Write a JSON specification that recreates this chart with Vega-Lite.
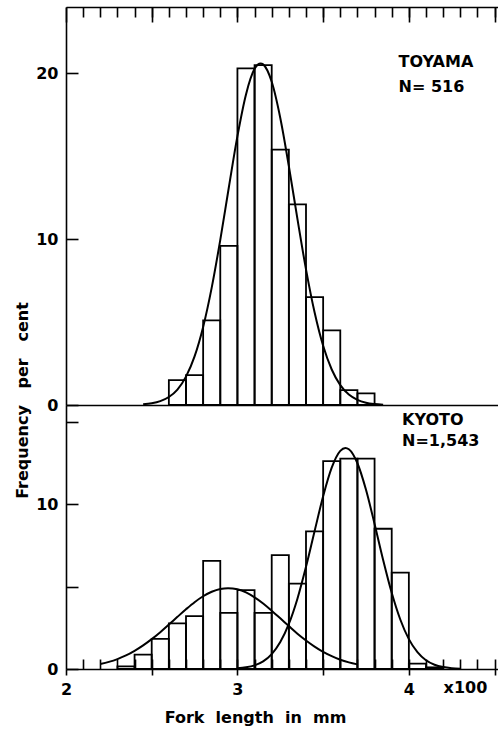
{
  "$schema": "https://vega.github.io/schema/vega-lite/v6.json",
  "padding": {"left": 14, "top": 6, "right": 0, "bottom": 4},
  "background": "white",
  "bounds": "flush",
  "spacing": 0,
  "config": {
    "view": {"stroke": null},
    "font": "DejaVu Sans",
    "axis": {"domainColor": "black", "tickColor": "black", "domainWidth": 1.6, "tickWidth": 1.6, "grid": false, "labelColor": "black", "titleColor": "black", "labelFont": "DejaVu Sans", "labelFontWeight": "bold", "labelFontSize": 16, "titleFont": "DejaVu Sans", "titleFontWeight": "bold", "titleFontSize": 16, "labelFlush": false}
  },
  "datasets": {
    "toyama_bars": [
      {"start": 2.6, "end": 2.7, "pct": 1.5},
      {"start": 2.7, "end": 2.8, "pct": 1.8},
      {"start": 2.8, "end": 2.9, "pct": 5.1},
      {"start": 2.9, "end": 3.0, "pct": 9.6},
      {"start": 3.0, "end": 3.1, "pct": 20.3},
      {"start": 3.1, "end": 3.2, "pct": 20.5},
      {"start": 3.2, "end": 3.3, "pct": 15.4},
      {"start": 3.3, "end": 3.4, "pct": 12.1},
      {"start": 3.4, "end": 3.5, "pct": 6.5},
      {"start": 3.5, "end": 3.6, "pct": 4.5},
      {"start": 3.6, "end": 3.7, "pct": 0.9},
      {"start": 3.7, "end": 3.8, "pct": 0.7}
    ],
    "toyama_curve": [
      {"x": 2.45, "y": 0.04}, {"x": 2.5, "y": 0.10}, {"x": 2.55, "y": 0.23}, {"x": 2.6, "y": 0.48},
      {"x": 2.65, "y": 0.93}, {"x": 2.7, "y": 1.71}, {"x": 2.75, "y": 2.93}, {"x": 2.8, "y": 4.71},
      {"x": 2.85, "y": 7.08}, {"x": 2.9, "y": 9.96}, {"x": 2.95, "y": 13.13}, {"x": 3.0, "y": 16.21},
      {"x": 3.05, "y": 18.73}, {"x": 3.1, "y": 20.27}, {"x": 3.135, "y": 20.6}, {"x": 3.15, "y": 20.54},
      {"x": 3.2, "y": 19.49}, {"x": 3.25, "y": 17.31}, {"x": 3.3, "y": 14.4}, {"x": 3.35, "y": 11.22},
      {"x": 3.4, "y": 8.18}, {"x": 3.45, "y": 5.59}, {"x": 3.5, "y": 3.57}, {"x": 3.55, "y": 2.14},
      {"x": 3.6, "y": 1.2}, {"x": 3.65, "y": 0.63}, {"x": 3.7, "y": 0.31}, {"x": 3.75, "y": 0.14},
      {"x": 3.8, "y": 0.06}, {"x": 3.85, "y": 0.02}
    ],
    "toyama_text": [
      {"x": 3.94, "y": 20.7, "text": "TOYAMA"},
      {"x": 3.94, "y": 19.2, "text": "N= 516"}
    ],
    "kyoto_bars": [
      {"start": 2.3, "end": 2.4, "pct": 0.16},
      {"start": 2.4, "end": 2.5, "pct": 0.87},
      {"start": 2.5, "end": 2.6, "pct": 1.83},
      {"start": 2.6, "end": 2.7, "pct": 2.76},
      {"start": 2.7, "end": 2.8, "pct": 3.2},
      {"start": 2.8, "end": 2.9, "pct": 6.55},
      {"start": 2.9, "end": 3.0, "pct": 3.4},
      {"start": 3.0, "end": 3.1, "pct": 4.78},
      {"start": 3.1, "end": 3.2, "pct": 3.4},
      {"start": 3.2, "end": 3.3, "pct": 6.9},
      {"start": 3.3, "end": 3.4, "pct": 5.17},
      {"start": 3.4, "end": 3.5, "pct": 8.34},
      {"start": 3.5, "end": 3.6, "pct": 12.6},
      {"start": 3.6, "end": 3.7, "pct": 12.75},
      {"start": 3.7, "end": 3.8, "pct": 12.75},
      {"start": 3.8, "end": 3.9, "pct": 8.5},
      {"start": 3.9, "end": 4.0, "pct": 5.84},
      {"start": 4.0, "end": 4.1, "pct": 0.33},
      {"start": 4.1, "end": 4.2, "pct": 0.1}
    ],
    "kyoto_curve": [
      {"c": "A", "x": 2.2, "y": 0.30}, {"c": "A", "x": 2.25, "y": 0.43}, {"c": "A", "x": 2.3, "y": 0.60},
      {"c": "A", "x": 2.35, "y": 0.82}, {"c": "A", "x": 2.4, "y": 1.10}, {"c": "A", "x": 2.45, "y": 1.43},
      {"c": "A", "x": 2.5, "y": 1.81}, {"c": "A", "x": 2.55, "y": 2.23}, {"c": "A", "x": 2.6, "y": 2.69},
      {"c": "A", "x": 2.65, "y": 3.16}, {"c": "A", "x": 2.7, "y": 3.62}, {"c": "A", "x": 2.75, "y": 4.05},
      {"c": "A", "x": 2.8, "y": 4.41}, {"c": "A", "x": 2.85, "y": 4.68}, {"c": "A", "x": 2.9, "y": 4.85},
      {"c": "A", "x": 2.945, "y": 4.9}, {"c": "A", "x": 3.0, "y": 4.83}, {"c": "A", "x": 3.05, "y": 4.64},
      {"c": "A", "x": 3.1, "y": 4.34}, {"c": "A", "x": 3.15, "y": 3.97}, {"c": "A", "x": 3.2, "y": 3.53},
      {"c": "A", "x": 3.25, "y": 3.07}, {"c": "A", "x": 3.3, "y": 2.60}, {"c": "A", "x": 3.35, "y": 2.14},
      {"c": "A", "x": 3.4, "y": 1.73}, {"c": "A", "x": 3.45, "y": 1.36}, {"c": "A", "x": 3.5, "y": 1.04},
      {"c": "A", "x": 3.55, "y": 0.78}, {"c": "A", "x": 3.6, "y": 0.56}, {"c": "A", "x": 3.65, "y": 0.40},
      {"c": "A", "x": 3.7, "y": 0.28},
      {"c": "B", "x": 3.0, "y": 0.04}, {"c": "B", "x": 3.05, "y": 0.10}, {"c": "B", "x": 3.1, "y": 0.22},
      {"c": "B", "x": 3.15, "y": 0.46}, {"c": "B", "x": 3.2, "y": 0.90}, {"c": "B", "x": 3.25, "y": 1.63},
      {"c": "B", "x": 3.3, "y": 2.73}, {"c": "B", "x": 3.35, "y": 4.26}, {"c": "B", "x": 3.4, "y": 6.19},
      {"c": "B", "x": 3.45, "y": 8.35}, {"c": "B", "x": 3.5, "y": 10.47}, {"c": "B", "x": 3.55, "y": 12.2},
      {"c": "B", "x": 3.6, "y": 13.22}, {"c": "B", "x": 3.63, "y": 13.4}, {"c": "B", "x": 3.65, "y": 13.32},
      {"c": "B", "x": 3.7, "y": 12.47}, {"c": "B", "x": 3.75, "y": 10.86}, {"c": "B", "x": 3.8, "y": 8.79},
      {"c": "B", "x": 3.85, "y": 6.61}, {"c": "B", "x": 3.9, "y": 4.62}, {"c": "B", "x": 3.95, "y": 3.0},
      {"c": "B", "x": 4.0, "y": 1.81}, {"c": "B", "x": 4.05, "y": 1.02}, {"c": "B", "x": 4.1, "y": 0.53},
      {"c": "B", "x": 4.15, "y": 0.26}, {"c": "B", "x": 4.2, "y": 0.12}, {"c": "B", "x": 4.25, "y": 0.05},
      {"c": "B", "x": 4.3, "y": 0.02}
    ],
    "kyoto_text": [
      {"x": 3.96, "y": 15.1, "text": "KYOTO"},
      {"x": 3.96, "y": 13.8, "text": "N=1,543"}
    ],
    "unit_text": [
      {"x": 4.33, "y": -1.13, "text": "x100"}
    ]
  },
  "vconcat": [
    {
      "width": 432,
      "height": 398,
      "resolve": {"axis": {"x": "independent"}},
      "layer": [
        {
          "data": {"name": "toyama_bars"},
          "mark": {"type": "rect", "filled": false, "stroke": "black", "strokeWidth": 1.8},
          "encoding": {
            "x": {"field": "start", "type": "quantitative", "scale": {"domain": [2, 4.52], "nice": false},
              "axis": {"orient": "top", "values": [2, 2.5, 3, 3.5, 4, 4.5], "tickSize": -15, "labels": false, "title": null, "domain": true}},
            "x2": {"field": "end"},
            "y": {"field": "pct", "type": "quantitative", "scale": {"domain": [0, 24], "nice": false},
              "axis": {"orient": "left", "values": [0, 10, 20], "tickSize": -12, "labelPadding": 20, "title": "Frequency\u00a0\u00a0 per\u00a0\u00a0 cent", "titleAngle": -90, "titleX": -44, "titleY": 393, "titleAlign": "center", "titleBaseline": "middle"}},
            "y2": {"datum": 0}
          }
        },
        {
          "data": {"name": "toyama_curve"},
          "mark": {"type": "line", "color": "black", "strokeWidth": 2, "interpolate": "monotone"},
          "encoding": {
            "x": {"field": "x", "type": "quantitative", "scale": {"domain": [2, 4.52], "nice": false},
              "axis": {"orient": "top", "values": [2.1, 2.2, 2.3, 2.4, 2.5, 2.6, 2.7, 2.8, 2.9, 3.0, 3.1, 3.2, 3.3, 3.4, 3.5, 3.6, 3.7, 3.8, 3.9, 4.0, 4.1, 4.2, 4.3, 4.4, 4.5], "tickSize": -10, "labels": false, "title": null, "domain": false}},
            "y": {"field": "y", "type": "quantitative"}
          }
        },
        {
          "data": {"name": "toyama_text"},
          "mark": {"type": "text", "align": "left", "baseline": "middle", "font": "DejaVu Sans", "fontWeight": "bold", "fontSize": 16, "color": "black"},
          "encoding": {
            "x": {"field": "x", "type": "quantitative", "scale": {"domain": [2, 4.52], "nice": false},
              "axis": {"orient": "bottom", "ticks": false, "labels": false, "title": null, "domain": true}},
            "y": {"field": "y", "type": "quantitative"},
            "text": {"field": "text"}
          }
        }
      ]
    },
    {
      "width": 432,
      "height": 264,
      "resolve": {"axis": {"x": "independent"}},
      "layer": [
        {
          "data": {"name": "kyoto_bars"},
          "mark": {"type": "rect", "filled": false, "stroke": "black", "strokeWidth": 1.8},
          "encoding": {
            "x": {"field": "start", "type": "quantitative", "scale": {"domain": [2, 4.52], "nice": false},
              "axis": {"orient": "bottom", "values": [2, 2.5, 3, 3.5, 4, 4.5], "tickSize": 6, "labelPadding": 6, "labelBaseline": "top", "labelExpr": "datum.value % 1 == 0 ? format(datum.value, 'd') : ''", "title": "Fork\u00a0 length\u00a0 in\u00a0 mm", "titleX": 189, "titleY": 48, "titleAlign": "center", "titleBaseline": "middle", "domain": true}},
            "x2": {"field": "end"},
            "y": {"field": "pct", "type": "quantitative", "scale": {"domain": [0, 16], "nice": false},
              "axis": {"orient": "left", "values": [0, 5, 10, 15], "tickSize": -12, "labelPadding": 20, "labelExpr": "datum.value == 0 || datum.value == 10 ? datum.label : ''", "title": null}},
            "y2": {"datum": 0}
          }
        },
        {
          "data": {"name": "kyoto_curve"},
          "mark": {"type": "line", "color": "black", "strokeWidth": 2, "interpolate": "monotone"},
          "encoding": {
            "x": {"field": "x", "type": "quantitative", "scale": {"domain": [2, 4.52], "nice": false},
              "axis": {"orient": "bottom", "values": [2.1, 2.2, 2.3, 2.4, 2.5, 2.6, 2.7, 2.8, 2.9, 3.0, 3.1, 3.2, 3.3, 3.4, 3.5, 3.6, 3.7, 3.8, 3.9, 4.0, 4.1, 4.2, 4.3, 4.4, 4.5], "tickSize": -10, "labels": false, "title": null, "domain": false}},
            "y": {"field": "y", "type": "quantitative"},
            "detail": {"field": "c"}
          }
        },
        {
          "data": {"name": "kyoto_text"},
          "mark": {"type": "text", "align": "left", "baseline": "middle", "font": "DejaVu Sans", "fontWeight": "bold", "fontSize": 16, "color": "black"},
          "encoding": {
            "x": {"field": "x", "type": "quantitative", "axis": null},
            "y": {"field": "y", "type": "quantitative"},
            "text": {"field": "text"}
          }
        },
        {
          "data": {"name": "unit_text"},
          "mark": {"type": "text", "align": "center", "baseline": "middle", "font": "DejaVu Sans", "fontWeight": "bold", "fontSize": 16, "color": "black"},
          "encoding": {
            "x": {"field": "x", "type": "quantitative", "axis": null},
            "y": {"field": "y", "type": "quantitative"},
            "text": {"field": "text"}
          }
        }
      ]
    }
  ]
}
